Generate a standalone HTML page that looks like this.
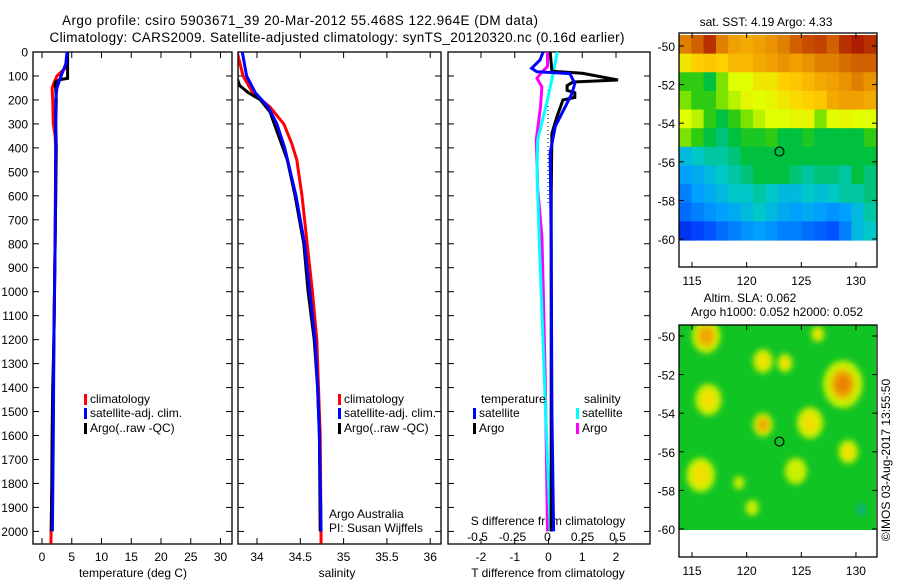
<!DOCTYPE html>
<html><head><meta charset="utf-8"><style>
body{margin:0;background:#fff}
svg{display:block;font-family:"Liberation Sans",sans-serif}
</style></head><body>
<svg id="c" width="900" height="580" viewBox="0 0 900 580" xmlns="http://www.w3.org/2000/svg">
<defs>
<clipPath id="cp1"><rect x="33" y="52" width="199" height="492"/></clipPath>
<clipPath id="cp2"><rect x="238" y="52" width="203" height="492"/></clipPath>
<clipPath id="cp3"><rect x="448" y="52" width="202" height="492"/></clipPath>
<clipPath id="cm2"><rect x="679" y="325" width="197" height="205"/></clipPath>
<filter id="blur" x="-20%" y="-20%" width="140%" height="140%"><feGaussianBlur stdDeviation="3"/></filter>
</defs>
<text x="300" y="25" font-size="13.5" text-anchor="middle" textLength="476">Argo profile: csiro 5903671_39 20-Mar-2012 55.468S 122.964E (DM data)</text>
<text x="337" y="42" font-size="13.5" text-anchor="middle" textLength="575">Climatology: CARS2009. Satellite-adjusted climatology: synTS_20120320.nc (0.16d earlier)</text>
<g id="g"></g>
</svg>
<script>
// ---------- data ----------
const depthTicks=[0,100,200,300,400,500,600,700,800,900,1000,1100,1200,1300,1400,1500,1600,1700,1800,1900,2000];
const tempTicks=[0,5,10,15,20,25,30];
const salTicks=[34,34.5,35,35.5,36];
const tDiffTicks=[-2,-1,0,1,2];
const sDiffTicks=[-0.5,-0.25,0,0.25,0.5];
const argoTDepth=[0,110,115,125,135,150,200,300,400,600,800,1000,1200,1300,1400,1600,1800,2000];
const argoT=[4.3,4.3,3.0,2.3,2.2,2.3,2.4,2.3,2.4,2.3,2.2,2.1,2.0,1.9,1.8,1.7,1.65,1.55];
const climTDepth=[0,60,100,130,150,200,300,350,400,600,800,1000,1400,1800,2050];
const climT=[4.3,4.2,2.5,2.0,1.7,1.8,1.9,2.2,2.3,2.3,2.2,2.1,1.9,1.7,1.5];
const satTDepth=[0,50,100,150,200,400,800,1200,1600,2000];
const satT=[4.2,4.0,3.2,2.5,2.3,2.3,2.2,2.0,1.9,1.75];
const argoSDepth=[0,110,140,170,200,250,350,450,600,800,1000,1200,1400,1600,2000];
const argoS=[33.77,33.77,33.8,33.9,34.04,34.15,34.25,34.35,34.44,34.54,34.59,34.66,34.7,34.72,34.73];
const climSDepth=[0,100,170,230,300,380,450,600,800,1000,1200,1400,1600,2050];
const climS=[33.77,33.84,33.95,34.15,34.31,34.4,34.46,34.52,34.58,34.64,34.69,34.71,34.73,34.74];
const satSDepth=[0,100,170,230,300,400,600,800,1000,1200,1400,1600,2000];
const satS=[33.83,33.88,33.98,34.13,34.23,34.32,34.45,34.55,34.61,34.67,34.7,34.72,34.74];
const satTdDepth=[0,33,68,82,90,131,172,227,310,420,800,1500,2000];
const satTd=[-0.16,-0.25,-0.5,-0.35,0.63,0.78,0.7,0.5,0.2,0.05,0.08,0.1,0.15];
const argoTdDepth=[0,80,89,117,125,140,160,170,190,200,270,340,600,1000,1500,2000];
const argoTd=[0.05,0.1,1.0,2.06,0.73,0.55,0.55,0.78,0.78,0.43,0.25,0.1,0.08,0.08,0.08,0.08];
const argoSdDepth=[0,60,90,110,145,230,365,570,770,1000,1400,2000];
const argoSd=[0,0,-0.05,-0.075,-0.04,-0.05,-0.08,-0.07,-0.04,-0.03,-0.015,0];
const satSdDepth=[0,90,200,365,500,770,1000,1400,2000];
const satSd=[0.07,0.04,0,-0.07,-0.075,-0.06,-0.045,-0.02,0.02];
const latTicks=[-50,-52,-54,-56,-58,-60];
const lonTicks=[115,120,125,130];
const sstGrid=[
[0.85,0.9,0.95,0.85,0.8,0.78,0.8,0.82,0.85,0.9,0.92,0.93,0.9,0.95,0.97,0.95],
[0.65,0.7,0.72,0.7,0.75,0.75,0.78,0.8,0.82,0.8,0.82,0.85,0.85,0.88,0.9,0.9],
[0.5,0.5,0.45,0.55,0.6,0.6,0.65,0.65,0.7,0.72,0.75,0.78,0.8,0.82,0.85,0.82],
[0.55,0.5,0.5,0.55,0.58,0.62,0.6,0.62,0.65,0.68,0.7,0.72,0.78,0.8,0.8,0.78],
[0.6,0.58,0.5,0.45,0.5,0.55,0.58,0.6,0.6,0.62,0.62,0.55,0.6,0.62,0.6,0.6],
[0.55,0.5,0.45,0.42,0.45,0.48,0.48,0.5,0.45,0.45,0.48,0.45,0.45,0.45,0.45,0.5],
[0.35,0.38,0.4,0.4,0.42,0.45,0.45,0.45,0.45,0.45,0.45,0.45,0.45,0.45,0.45,0.45],
[0.3,0.32,0.35,0.38,0.4,0.42,0.45,0.45,0.45,0.42,0.4,0.42,0.42,0.4,0.45,0.42],
[0.25,0.3,0.32,0.35,0.38,0.38,0.4,0.38,0.35,0.35,0.38,0.36,0.38,0.4,0.4,0.42],
[0.22,0.25,0.28,0.3,0.32,0.35,0.38,0.35,0.32,0.3,0.32,0.3,0.28,0.3,0.35,0.4],
[0.12,0.15,0.18,0.22,0.25,0.28,0.3,0.28,0.25,0.25,0.22,0.2,0.18,0.25,0.35,0.38]];
const slaBlobLon=[116.3,121.5,123.5,116.5,121.5,125.8,128.8,129.3,115.8,124.5,126.5,119.3,120.5,130.5];
const slaBlobLat=[-50.0,-51.3,-51.4,-53.3,-54.6,-54.5,-52.5,-56.0,-57.2,-57.0,-49.9,-57.6,-58.9,-59.0];
const slaBlobR=[1.3,0.9,0.7,1.2,0.9,1.2,1.8,0.9,1.3,1.0,0.6,0.5,0.6,0.4];
const slaBlobLevel=[0.85,0.7,0.6,0.75,0.9,0.6,1.0,0.65,0.65,0.55,0.6,0.5,0.5,0.4];
const floatLon=123.0, floatLat=-55.47;

// ---------- helpers ----------
const NS="http://www.w3.org/2000/svg";
const G=document.getElementById('g');
function mk(tag,at,parent){const e=document.createElementNS(NS,tag);for(const k in at)e.setAttribute(k,at[k]);(parent||G).appendChild(e);return e;}
const yD=d=>52+0.2397*d;
const xT=t=>42+5.95*t;
const xS=s=>257+86.6*(s-34);
const xTd=t=>548.5+33.75*t;
const xSd=s=>547.5+140*s;
const FS=12;

function line(xs,ds,fx,color,clip,name){
  const pts=xs.map((v,i)=>fx(v).toFixed(1)+','+yD(ds[i]).toFixed(1)).join(' ');
  const p=mk('polyline',{points:pts,fill:'none',stroke:color,'stroke-width':3,'clip-path':'url(#'+clip+')'});
  
  
}
function panel(x0,x1,name,depthLabels){
  const r=mk('rect',{x:x0,y:52,width:x1-x0,height:492,fill:'none',stroke:'#000','stroke-width':1.3});
  
  
  depthTicks.forEach(d=>{
    mk('line',{x1:x0,x2:x0+6,y1:yD(d),y2:yD(d),stroke:'#000'});
    mk('line',{x1:x1-6,x2:x1,y1:yD(d),y2:yD(d),stroke:'#000'});
    if(depthLabels){const t=mk('text',{x:x0-5,y:yD(d)+4.5,'font-size':FS,'text-anchor':'end'});t.textContent=d;
      
      }
  });
}
function xticks(vals,fx,ylab,labels){
  vals.forEach(v=>{const x=fx(v);
    mk('line',{x1:x,x2:x,y1:52,y2:58,stroke:'#000'});
    mk('line',{x1:x,x2:x,y1:538,y2:544,stroke:'#000'});
    if(labels){const t=mk('text',{x:x,y:ylab,'font-size':FS,'text-anchor':'middle'});t.textContent=v;
      
      }
  });
}
function txt(x,y,s,size,anchor,name){const t=mk('text',{x:x,y:y,'font-size':size,'text-anchor':anchor||'start'});t.textContent=s;
  
  return t;}
function legend(x,y,color,s,name){mk('rect',{x:x,y:y-9,width:3,height:11,fill:color});txt(x+6,y,s,FS,'start',name);}

// ---------- panel 1: temperature ----------
panel(33,232,'temperature-panel',true);
xticks(tempTicks,xT,561,true);
txt(133,577,'temperature (deg C)',FS,'middle','temperature-axis-title');
line(climT,climTDepth,xT,'#ff0000','cp1','temperature-climatology-line');
line(argoT,argoTDepth,xT,'#000000','cp1','temperature-argo-line');
line(satT,satTDepth,xT,'#0000ff','cp1','temperature-satellite-line');
legend(84,403,'#ff0000','climatology','legend-climatology');
legend(84,417,'#0000ff','satellite-adj. clim.','legend-satellite');
legend(84,432,'#000000','Argo(..raw -QC)','legend-argo');

// ---------- panel 2: salinity ----------
panel(238,441,'salinity-panel',false);
xticks(salTicks,xS,561,true);
txt(337,577,'salinity',FS,'middle','salinity-axis-title');
line(climS,climSDepth,xS,'#ff0000','cp2','salinity-climatology-line');
line(argoS,argoSDepth,xS,'#000000','cp2','salinity-argo-line');
line(satS,satSDepth,xS,'#0000ff','cp2','salinity-satellite-line');
legend(338,403,'#ff0000','climatology','legend-climatology-2');
legend(338,417,'#0000ff','satellite-adj. clim.','legend-satellite-2');
legend(338,432,'#000000','Argo(..raw -QC)','legend-argo-2');
txt(329,518,'Argo Australia',FS,'start','credit-argo-australia');
txt(329,532,'PI: Susan Wijffels',FS,'start','credit-pi');

// ---------- panel 3: differences ----------
panel(448,650,'difference-panel',false);
xticks(tDiffTicks,xTd,561,true);
sDiffTicks.forEach(v=>{txt(xSd(v),541,String(v),FS,'middle','s-diff-tick-label');});
txt(548,525,'S difference from climatology',FS,'middle','s-diff-axis-title');
txt(548,577,'T difference from climatology',FS,'middle','t-diff-axis-title');
mk('line',{x1:548,x2:548,y1:90,y2:205,stroke:'#000','stroke-dasharray':'1,3'});
line(argoSd,argoSdDepth,xSd,'#ff00ff','cp3','s-diff-argo-line');
line(satSd,satSdDepth,xSd,'#00ffff','cp3','s-diff-satellite-line');
line(argoTd,argoTdDepth,xTd,'#000000','cp3','t-diff-argo-line');
line(satTd,satTdDepth,xTd,'#0000ff','cp3','t-diff-satellite-line');
txt(481,403,'temperature',FS,'start','legend-temperature-heading');
txt(584,403,'salinity',FS,'start','legend-salinity-heading');
legend(473,417,'#0000ff','satellite','legend-t-satellite');
legend(473,432,'#000000','Argo','legend-t-argo');
legend(576,417,'#00ffff','satellite','legend-s-satellite');
legend(576,432,'#ff00ff','Argo','legend-s-argo');

// ---------- maps ----------
const lonX=l=>692+10.93*(l-115);
function jet(v){
  const st=[[0,[0,0,160]],[0.15,[0,64,255]],[0.3,[0,160,255]],[0.38,[0,200,200]],[0.45,[0,192,64]],[0.52,[64,208,0]],[0.6,[224,255,0]],[0.7,[255,208,0]],[0.8,[240,160,0]],[0.9,[208,96,0]],[1,[160,0,0]]];
  for(let i=1;i<st.length;i++){if(v<=st[i][0]){const a=st[i-1],b=st[i],f=(v-a[0])/(b[0]-a[0]);
    return 'rgb('+a[1].map((c,k)=>Math.round(c+(b[1][k]-c)*f)).join(',')+')';}}
  return 'rgb(160,0,0)';
}
function mapFrame(top,bottom,latY,name){
  const r=mk('rect',{x:679,y:top,width:198,height:bottom-top,fill:'none',stroke:'#000','stroke-width':1.3});
  
  
  latTicks.forEach(l=>{const y=latY(l);mk('line',{x1:679,x2:684,y1:y,y2:y,stroke:'#000'});mk('line',{x1:872,x2:877,y1:y,y2:y,stroke:'#000'});
    txt(675,y+5,String(l),FS,'end','latitude-tick-label');});
  lonTicks.forEach(l=>{const x=lonX(l);mk('line',{x1:x,x2:x,y1:top,y2:top+5,stroke:'#000'});mk('line',{x1:x,x2:x,y1:bottom-5,y2:bottom,stroke:'#000'});
    txt(x,bottom+18,String(l),FS,'middle','longitude-tick-label');});
}
// SST map
const lat1=l=>46+19.3*(-50-l);
const cw=197/sstGrid[0].length, ch=205/sstGrid.length;
sstGrid.forEach((row,i)=>row.forEach((v,j)=>{
  const c=mk('rect',{x:(679+j*cw).toFixed(2),y:(35+i*ch).toFixed(2),width:(cw+0.6).toFixed(2),height:(ch+0.6).toFixed(2),fill:jet(v)});
  
  
}));
mapFrame(33,267,lat1,'sst-map');
mk('circle',{cx:lonX(floatLon),cy:lat1(floatLat),r:4.5,fill:'none',stroke:'#000','stroke-width':1.2});
txt(766,26,'sat. SST: 4.19 Argo: 4.33',FS,'middle','sst-map-title');
// SLA map
const lat2=l=>336+19.3*(-50-l);
const bg=mk('rect',{x:679,y:325,width:197,height:205,fill:'#10c424'});


const gb=mk('g',{'clip-path':'url(#cm2)'});
const gb2=mk('g',{filter:'url(#blur)'},gb);
slaBlobLon.forEach((l,i)=>{
  const r=slaBlobR[i]*11, lv=slaBlobLevel[i];
  const e1=mk('ellipse',{cx:lonX(l),cy:lat2(slaBlobLat[i]),rx:r,ry:r*1.2,fill:lv<0.45?'#10b090':'#c8f000'},gb2);
  
  
  if(lv>=0.6)mk('ellipse',{cx:lonX(l),cy:lat2(slaBlobLat[i]),rx:r*0.6,ry:r*0.75,fill:lv>0.8?'#f0a800':'#f0e000'},gb2);
  if(lv>=0.95)mk('ellipse',{cx:lonX(l),cy:lat2(slaBlobLat[i]),rx:r*0.35,ry:r*0.45,fill:'#e88000'},gb2);
});
mapFrame(325,557,lat2,'sla-map');
mk('circle',{cx:lonX(floatLon),cy:lat2(floatLat),r:4.5,fill:'none',stroke:'#000','stroke-width':1.2});
txt(750,302,'Altim. SLA: 0.062',FS,'middle','sla-map-title');
txt(777,316,'Argo h1000: 0.052 h2000: 0.052',FS,'middle','sla-map-subtitle');
const cr=txt(0,0,'©IMOS 03-Aug-2017 13:55:50',FS,'middle','copyright-stamp');
cr.setAttribute('transform','translate(890,460) rotate(-90)');
</script>
</body></html>
